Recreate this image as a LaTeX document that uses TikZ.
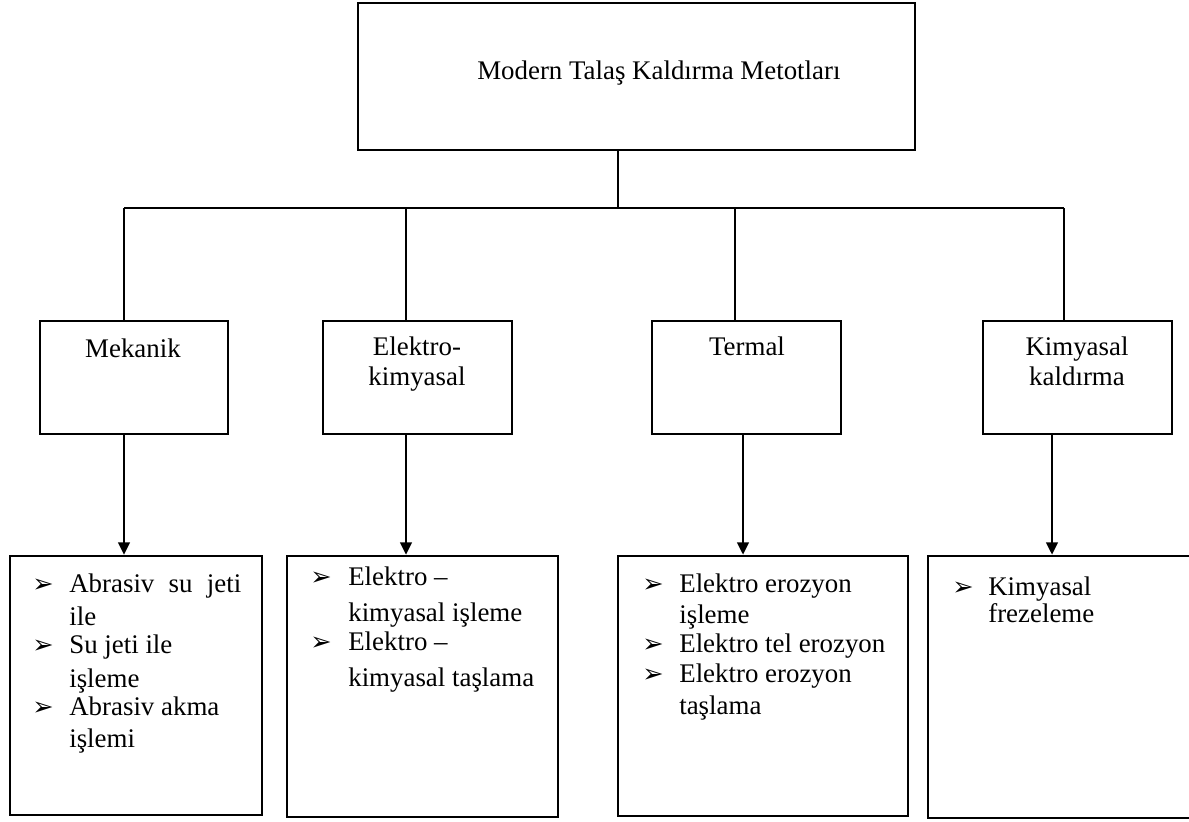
\documentclass[tikz,border=0pt]{standalone}
\usepackage{fontspec}
\setmainfont{Liberation Serif}
\newfontfamily\dejavu{DejaVu Sans}
\usetikzlibrary{arrows.meta}
\begin{document}
\begin{tikzpicture}[x=0.02cm,y=-0.02cm,line width=1.5pt,
  box/.style={draw,rectangle,inner sep=0pt},
  txt/.style={anchor=base west,inner sep=0pt,font=\fontsize{15.3}{17}\selectfont},
  ctxt/.style={anchor=base,inner sep=0pt,font=\fontsize{15.3}{17}\selectfont},
  bul/.style={anchor=base west,inner sep=0pt,font=\dejavu\fontsize{14.5}{16}\selectfont},
  arr/.style={-{Triangle[length=7pt,width=6.5pt]}}]
\useasboundingbox (0,0) rectangle (1189,821);
\clip (0,0) rectangle (1189,821);
% boxes
\node[box,minimum width=11.14cm,minimum height=2.94cm] (top) at (636.5,76.5) {};
\node[box,minimum width=3.76cm,minimum height=2.26cm] (mek) at (134,377.5) {};
\node[box,minimum width=3.78cm,minimum height=2.26cm] (ele) at (417.5,377.5) {};
\node[box,minimum width=3.78cm,minimum height=2.26cm] (ter) at (746.5,377.5) {};
\node[box,minimum width=3.78cm,minimum height=2.26cm] (kim) at (1077.5,377.5) {};
\node[box,minimum width=5.04cm,minimum height=5.18cm] (b1) at (136,685.5) {};
\node[box,minimum width=5.42cm,minimum height=5.22cm] (b2) at (422.5,686.5) {};
\node[box,minimum width=5.80cm,minimum height=5.20cm] (b3) at (763,686) {};
\node[box,minimum width=5.60cm,minimum height=5.24cm] (b4) at (1068,687) {};
% texts
\node[txt] (tt) at (476,80) {Modern Talaş Kaldırma Metotları};
\node[ctxt] (t1) at (133,357) {Mekanik};
\node[ctxt] (t2a) at (417,355) {Elektro-};
\node[ctxt] (t2b) at (417,385) {kimyasal};
\node[ctxt] (t3) at (747,355) {Termal};
\node[ctxt] (t4a) at (1077,355) {Kimyasal};
\node[ctxt] (t4b) at (1077,385) {kaldırma};
% box 1
\node[bul] (p11) at (31,592) {➢};
\node[bul] (p12) at (31,653) {➢};
\node[bul] (p13) at (31,715) {➢};
\node[txt] (l11) at (68,592) {\makebox[3.44cm][s]{Abrasiv\hfill su\hfill jeti}};
\node[txt] (l12) at (68,625) {ile};
\node[txt] (l13) at (68,653) {Su jeti ile};
\node[txt] (l14) at (68,687) {işleme};
\node[txt] (l15) at (68,715) {Abrasiv akma};
\node[txt] (l16) at (68,747) {işlemi};
% box 2
\node[bul] (p21) at (309,585) {➢};
\node[bul] (p22) at (309,650) {➢};
\node[txt] (l21) at (347,585) {Elektro –};
\node[txt] (l22) at (347,621) {kimyasal işleme};
\node[txt] (l23) at (347,650) {Elektro –};
\node[txt] (l24) at (347,686) {kimyasal taşlama};
% box 3
\node[bul] (p31) at (641,592) {➢};
\node[bul] (p32) at (641,652) {➢};
\node[bul] (p33) at (641,682) {➢};
\node[txt] (l31) at (678,592) {Elektro erozyon};
\node[txt] (l32) at (678,623) {işleme};
\node[txt] (l33) at (678,652) {Elektro tel erozyon};
\node[txt] (l34) at (678,682) {Elektro erozyon};
\node[txt] (l35) at (678,714) {taşlama};
% box 4
\node[bul] (p41) at (951,595) {➢};
\node[txt] (l41) at (987,595) {Kimyasal};
\node[txt] (l42) at (987,622) {frezeleme};
% connectors
\coordinate (j0) at (618,208);
\coordinate (j1) at (124,208);
\coordinate (j2) at (406,208);
\coordinate (j3) at (735,208);
\coordinate (j4) at (1064,208);
\coordinate (a1) at (124,500);
\coordinate (a2) at (406,500);
\coordinate (a3) at (743,500);
\coordinate (a4) at (1052,500);
\draw (top.south -| j0) -- (j0);
\draw (j1) -- (j4);
\draw (j1) -- (j1 |- mek.north);
\draw (j2) -- (j2 |- ele.north);
\draw (j3) -- (j3 |- ter.north);
\draw (j4) -- (j4 |- kim.north);
\draw[arr] (mek.south -| a1) -- (a1 |- b1.north);
\draw[arr] (ele.south -| a2) -- (a2 |- b2.north);
\draw[arr] (ter.south -| a3) -- (a3 |- b3.north);
\draw[arr] (kim.south -| a4) -- (a4 |- b4.north);
\end{tikzpicture}
\end{document}
